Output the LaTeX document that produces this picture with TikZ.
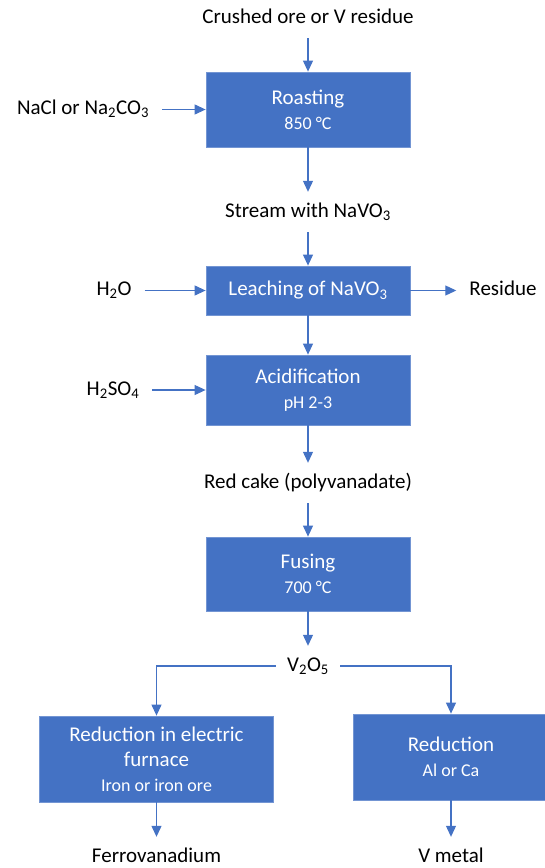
\documentclass[tikz,border=0pt]{standalone}
\usepackage{fontspec}
\setmainfont{Carlito}
\usepackage{xcolor}
\usetikzlibrary{arrows.meta}
\definecolor{boxblue}{HTML}{4472C4}

\begin{document}
\begin{tikzpicture}[x=1pt, y=-1pt,
    flow/.style={draw=boxblue, line width=1.1pt, -{Triangle[length=11pt,width=10pt]}},
    stage/.style={rectangle, fill=boxblue, draw=boxblue!75!white, line width=0.8pt,
        text=white, align=center, inner sep=0pt, minimum width=204pt,
        font=\fontsize{21}{25}\selectfont},
    lbl/.style={font=\fontsize{21}{25}\selectfont, text height=15pt, text depth=5pt,
        inner xsep=13pt, inner ysep=10pt}]
    \useasboundingbox (0,0) rectangle (544,868);

    % Stages
    \node[stage, minimum height=75pt] (roast) at (308,109.5) {Roasting\\\fontsize{18}{25}\selectfont 850 °C};
    \node[stage, minimum height=49pt] (leach) at (308,290.5) {Leaching of NaVO\textsubscript{3}};
    \node[stage, minimum height=70pt] (acid) at (308,390) {Acidification\\\fontsize{18}{25}\selectfont pH 2-3};
    \node[stage, minimum height=74pt] (fuse) at (308,574) {Fusing\\\fontsize{18}{25}\selectfont 700 °C};
    \node[stage, minimum height=86pt, minimum width=234pt] (furnace) at (156.5,759) {Reduction in electric\\furnace\\\fontsize{18}{25}\selectfont Iron or iron ore};
    \node[stage, minimum height=86pt, minimum width=196pt] (metallo) at (451,757) {Reduction\\\fontsize{18}{25}\selectfont Al or Ca};

    % Streams and inputs
    \node[lbl] (ore) at (308,18) {Crushed ore or V residue};
    \node[lbl] (salt) at (83,109.5) {NaCl or Na\textsubscript{2}CO\textsubscript{3}};
    \node[lbl] (stream) at (308,212) {Stream with NaVO\textsubscript{3}};
    \node[lbl] (water) at (114,290.5) {H\textsubscript{2}O};
    \node[lbl] (residue) at (503,290.5) {Residue};
    \node[lbl] (sulfuric) at (113,390) {H\textsubscript{2}SO\textsubscript{4}};
    \node[lbl] (cake) at (308,483) {Red cake (polyvanadate)};
    \node[lbl, inner xsep=11pt] (oxide) at (308,666) {V\textsubscript{2}O\textsubscript{5}};
    \node[lbl] (ferro) at (156.5,857) {Ferrovanadium};
    \node[lbl] (vmetal) at (451,857) {V metal};

    % Main line
    \draw[flow] (ore) -- (roast);
    \draw[flow] (roast) -- (stream);
    \draw[flow] (stream) -- (leach);
    \draw[flow] (leach) -- (acid);
    \draw[flow] (acid) -- (cake);
    \draw[flow] (cake) -- (fuse);
    \draw[flow] (fuse) -- (oxide);

    % Side inputs and outputs
    \draw[flow] (salt.east) -- (roast.west);
    \draw[flow] (water.east) -- (leach.west);
    \draw[flow] (leach.east) -- (residue.west);
    \draw[flow] (sulfuric.east) -- (acid.west);

    % Branches
    \draw[flow] (oxide.west) -| (furnace.north);
    \draw[flow] (oxide.east) -| (metallo.north);
    \draw[flow] (furnace) -- (ferro);
    \draw[flow] (metallo) -- (vmetal);
\end{tikzpicture}
\end{document}
